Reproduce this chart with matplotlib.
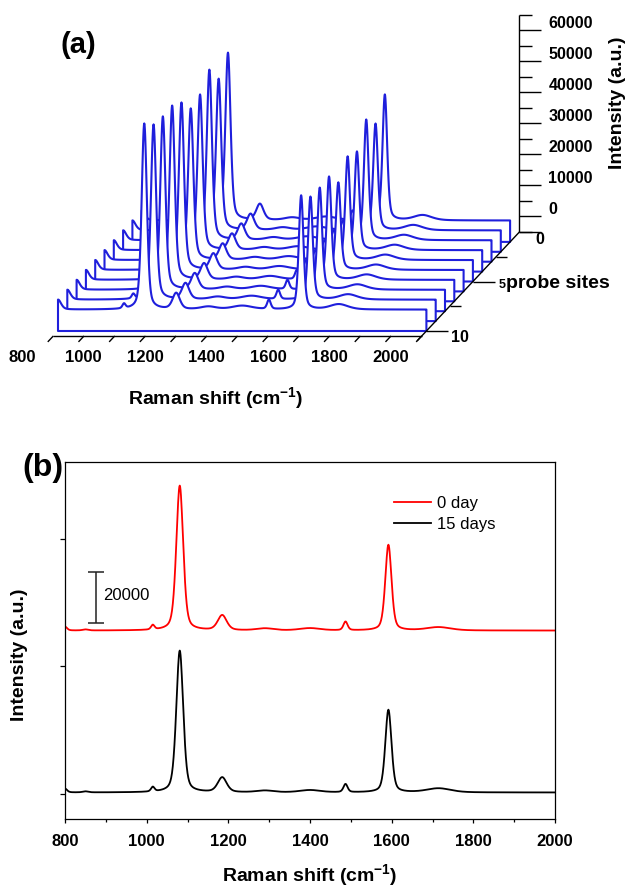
import numpy as np
import matplotlib
matplotlib.use('Agg')
import matplotlib.pyplot as plt
from matplotlib.ticker import MultipleLocator, NullFormatter
from matplotlib.transforms import ScaledTranslation

plt.rcParams['font.family'] = ['Liberation Sans', 'DejaVu Sans']
plt.rcParams['mathtext.fontset'] = 'custom'
plt.rcParams['mathtext.rm'] = 'Liberation Sans'
plt.rcParams['mathtext.bf'] = 'Liberation Sans:bold'
plt.rcParams['mathtext.default'] = 'bf'

# ---------------- data ----------------
RAMAN = np.arange(800, 2001, 1.0)          # Raman shift grid (cm-1)

# Panel (a): 10 probe sites, band heights
A_SITES = [1, 2, 3, 4, 5, 6, 7, 8, 9, 10]
A_BASELINE = [1900, 1900, 1900, 1900, 1900, 1900, 1900, 1900, 1900, 1900]
A_I1081 = [54100, 48900, 55000, 50200, 48900, 54000, 56200, 55900, 56500, 60000]
A_I1592 = [40600, 34400, 38900, 31800, 33400, 28200, 33300, 32900, 33200, 36800]
A_MINOR_CENTER = [800, 1015, 1185, 1290, 1400, 1487, 1715]
A_MINOR_HEIGHT = [3200, 1500, 5200, 900, 1200, 3000, 1700]
A_MINOR_WIDTH = [12, 6, 14, 30, 40, 7, 35]
A_STRONG_WIDTH = [10, 9]                  # HWHM of 1081 / 1592 bands

# Panel (b): 0 day vs 15 days
B_CENTER = [800, 850, 1015, 1081, 1185, 1290, 1400, 1487, 1592, 1715]
B_WIDTH = [6, 8, 5, 10, 13, 25, 30, 6, 9, 35]
B_0DAY = [1500, 400, 1800, 56800, 5900, 800, 900, 3400, 33600, 1300]
B_15DAY = [1500, 400, 1800, 55600, 5800, 700, 900, 3200, 32400, 1600]
B_BASELINE = [400, 400]
B_OFFSET = 63500                           # vertical stacking offset of 0-day trace
B_LABELS = ['0 day', '15 days']
B_COLORS = ['#ff0000', '#000000']

X_TICKS = [800, 1000, 1200, 1400, 1600, 1800, 2000]
Z_TICKS = [0, 10000, 20000, 30000, 40000, 50000, 60000]
SITE_TICKS = [0, 2.5, 5, 7.5, 10]

ETA = 0.4  # Lorentzian fraction of the pseudo-Voigt band shape


def spectrum(base, centers, heights, widths):
    y = np.full_like(RAMAN, float(base))
    for c, h, w in zip(centers, heights, widths):
        d2 = (RAMAN - c) ** 2
        y += h * (ETA * w ** 2 / (d2 + w ** 2) + (1 - ETA) * np.exp(-np.log(2) * d2 / w ** 2))
    return y


# ---------------- figure ----------------
W, H = 630, 889
fig = plt.figure(figsize=(W / 100, H / 100), dpi=100)
BLUE = '#1f1fdc'

# ---- panel (a): pseudo-3D waterfall ----
PX_CM = 0.307        # px per cm-1
PX_I = 0.0031        # px per intensity unit
FRONT_X800 = 58      # px
FRONT_FLOOR = 331    # px from top
Z_FLOOR = -5000
SDX = 9.3 / PX_CM
SDY = 9.9 / PX_I
AH = 420
ax = fig.add_axes([0, 1 - AH / H, 1, AH / H])
ax.set_axis_off()
x0 = 800 - FRONT_X800 / PX_CM
ax.set_xlim(x0, x0 + W / PX_CM)
ax.set_ylim(Z_FLOOR - (AH - FRONT_FLOOR) / PX_I, Z_FLOOR + FRONT_FLOOR / PX_I)


def proj(r, s, z):
    return np.asarray(r, float) + (10 - np.asarray(s, float)) * SDX, \
        np.asarray(z, float) + (10 - np.asarray(s, float)) * SDY


def off(dx, dy):
    return ax.transData + ScaledTranslation(dx / 100, dy / 100, fig.dpi_scale_trans)


for s, base, h1, h2 in sorted(zip(A_SITES, A_BASELINE, A_I1081, A_I1592)):
    z = spectrum(base, A_MINOR_CENTER + [1081, 1592], A_MINOR_HEIGHT + [h1, h2],
                 A_MINOR_WIDTH + A_STRONG_WIDTH)
    X, Y = proj(RAMAN, s, z)
    Xb, Yb = proj([2000, 800], s, [Z_FLOOR, Z_FLOOR])
    ax.fill(np.concatenate([X, Xb]), np.concatenate([Y, Yb]), facecolor='white',
            edgecolor=BLUE, lw=1.5, zorder=2 + s, joinstyle='round')

kw = dict(color='black', lw=1.0, solid_capstyle='butt', zorder=20)
# z axis
X, Y = proj([2000, 2000], 0, [Z_FLOOR, 65000])
ax.plot(X, Y, **kw)
for z in range(-5000, 65001, 5000):
    major = (z % 10000 == 0) and 0 <= z <= 60000
    L = (22 if major else 13) / PX_CM
    X, Y = proj([2000, 2000], 0, [z, z])
    ax.plot([X[0], X[0] + L], Y, **kw)
for z in Z_TICKS:
    X, Y = proj(2000, 0, z)
    ax.text(X, Y, f'{z}', transform=off(29, 7), ha='left', va='center',
            fontsize=11.5, fontweight='bold', zorder=21)

# probe-site axis
X, Y = proj([2000, 2000], [0, 11], [Z_FLOOR, Z_FLOOR])
ax.plot(X, Y, **kw)
for s in SITE_TICKS:
    L = (22 if s % 5 == 0 else 11) / PX_CM
    X, Y = proj(2000, s, Z_FLOOR)
    ax.plot([X, X + L], [Y, Y], **kw)
X, Y = proj(2000, 0, Z_FLOOR)
ax.text(X, Y, '0', transform=off(16, -8), ha='left', va='center', fontsize=11.5,
        fontweight='bold', zorder=21)
X, Y = proj(2000, 10, Z_FLOOR)
ax.text(X, Y, '10', transform=off(25, -6), ha='left', va='center', fontsize=11.5,
        fontweight='bold', zorder=21)
X, Y = proj(2000, 5, Z_FLOOR)
ax.text(X, Y, '5', transform=off(25.5, -4), ha='left', va='center', fontsize=9,
        fontweight='bold', zorder=21)
ax.text(X, Y, 'probe sites', transform=off(33.5, -1.5), ha='left', va='center',
        fontsize=14, fontweight='bold', zorder=21)

# Raman axis (front)
X, Y = proj([800, 2000], 10.5, [Z_FLOOR, Z_FLOOR])
ax.plot(X, Y, **kw)
for r in range(800, 2001, 100):
    X, Y = proj([r, r], [10.5, 11.1], [Z_FLOOR, Z_FLOOR])
    ax.plot(X, Y, **kw)
for r in X_TICKS:
    X, Y = proj(r, 10.5, Z_FLOOR)
    ax.text(X, Y, f'{r}', transform=off(-31, -22), ha='center', va='center',
            fontsize=12, fontweight='bold', zorder=21)

fig.text(216 / W, 1 - 398 / H, 'Raman shift (cm$^{-1}$)', ha='center', va='center',
         fontsize=14, fontweight='bold')
fig.text(618 / W, 1 - 103 / H, 'Intensity (a.u.)', ha='center', va='center',
         rotation=90, fontsize=14, fontweight='bold')
fig.text(78 / W, 1 - 45 / H, '(a)', ha='center', va='center', fontsize=21,
         fontweight='bold')

# ---- panel (b) ----
bx = fig.add_axes([65 / W, 1 - 819 / H, 490 / W, 357 / H])
traces = [spectrum(B_BASELINE[0], B_CENTER, B_0DAY, B_WIDTH) + B_OFFSET,
          spectrum(B_BASELINE[1], B_CENTER, B_15DAY, B_WIDTH)]
for y, lab, c in zip(traces, B_LABELS, B_COLORS):
    bx.plot(RAMAN, y, color=c, lw=1.3, label=lab)
bx.set_xlim(800, 2000)
bx.set_ylim(-10000, 130000)
bx.set_xticks(X_TICKS)
bx.xaxis.set_minor_locator(MultipleLocator(100))
bx.set_yticks([0, 50000, 100000])
bx.yaxis.set_major_formatter(NullFormatter())
bx.tick_params(axis='x', which='major', direction='out', length=3, width=0.9,
               labelsize=12, pad=8)
bx.tick_params(axis='x', which='minor', direction='out', length=2, width=0.9)
bx.tick_params(axis='y', which='major', direction='out', length=3.5, width=0.9)
for lbl in bx.get_xticklabels():
    lbl.set_fontweight('bold')
for sp in bx.spines.values():
    sp.set_linewidth(0.9)
bx.set_xlabel('Raman shift (cm$^{-1}$)', fontsize=14, fontweight='bold', labelpad=9)
bx.set_ylabel('Intensity (a.u.)', fontsize=14, fontweight='bold')
bx.yaxis.set_label_coords((28 - 65) / 490, (819 - 655) / 357)

bx.errorbar([876], [77000], yerr=[10000], color='#222222', lw=1.1, capsize=6,
            capthick=1.1)
bx.text(893, 77600, '20000', ha='left', va='center', fontsize=12)

bx.legend(loc='upper left', bbox_to_anchor=(0.672, 0.905), frameon=False,
          fontsize=12, handlelength=2.2, handletextpad=0.35, labelspacing=0.35,
          borderpad=0, borderaxespad=0)

fig.text(43 / W, 1 - 468 / H, '(b)', ha='center', va='center', fontsize=23,
         fontweight='bold')

fig.savefig('out.png', dpi=100)
